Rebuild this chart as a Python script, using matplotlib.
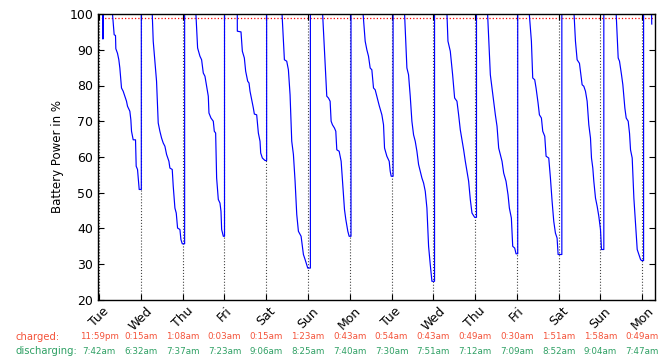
import matplotlib
matplotlib.use("Agg")
import matplotlib.pyplot as plt
import matplotlib.transforms as mtransforms

# day labels at each midnight
days = ["Tue", "Wed", "Thu", "Fri", "Sat", "Sun", "Mon",
        "Tue", "Wed", "Thu", "Fri", "Sat", "Sun", "Mon"]
charged = ["11:59pm", "0:15am", "1:08am", "0:03am", "0:15am", "1:23am", "0:43am",
           "0:54am", "0:43am", "0:49am", "0:30am", "1:51am", "1:58am", "0:49am"]
discharging = ["7:42am", "6:32am", "7:37am", "7:23am", "9:06am", "8:25am", "7:40am",
               "7:30am", "7:51am", "7:12am", "7:09am", "8:52am", "9:04am", "7:47am"]

# discharge curves, hours after that day's midnight -> battery %
c00_h = [8.65, 9.42, 9.61, 10.57, 11.33, 11.91, 12.87, 13.83, 14.79, 15.74, 16.32,
         17.66, 18.24, 18.62, 19.58, 20.92, 21.30, 22.07, 22.46, 23.03, 23.61]
c00_v = [94.2, 94.0, 90.3, 89.0, 87.2, 84.9, 79.3, 78.4, 77.0, 75.6, 74.2,
         72.8, 70.4, 67.2, 64.8, 64.8, 57.4, 56.5, 54.1, 50.9, 50.9]
c01_h = [7.09, 8.04, 9.0, 9.96, 10.92, 11.88, 12.84, 13.8, 14.76, 16.1, 16.67,
         18.01, 18.59, 19.55, 20.32, 21.08, 22.43, 23.0, 23.77]
c01_v = [92.4, 86.8, 81.2, 69.5, 67.2, 65.3, 63.9, 63.0, 60.7, 58.8, 56.9,
         56.5, 51.8, 45.7, 44.3, 40.1, 39.7, 36.9, 35.7]
c02_h = [8.59, 9.93, 10.89, 11.85, 12.81, 13.77, 14.73, 15.11, 16.26, 17.6, 18.18,
         18.95, 19.52, 20.48, 21.44, 22.02, 22.4, 23.36]
c02_v = [90.5, 88.2, 87.2, 83.5, 82.6, 79.8, 77.0, 72.3, 70.9, 70.0, 67.2,
         66.7, 54.1, 48.1, 47.1, 44.8, 39.7, 37.8]
c03_h = [7.41, 9.52, 10.29, 11.44, 12.2, 13.36, 14.12, 14.7, 15.66, 16.61, 17.19,
         18.53, 19.49, 20.45, 20.84, 21.79, 23.33]
c03_v = [95.2, 95.0, 89.6, 87.7, 84.0, 81.2, 80.7, 78.4, 76.0, 73.7, 72.0,
         71.8, 66.7, 64.4, 61.1, 59.7, 59.0]
c04_h = [10.45, 11.79, 12.75, 13.71, 14.67, 15.63, 16.59, 17.55, 18.5, 20.04,
         21.38, 22.34, 23.87]
c04_v = [87.2, 86.8, 84.4, 77.4, 64.4, 60.7, 53.2, 43.9, 39.2, 37.8, 32.7, 31.3, 28.9]
c05_h = [10.8, 11.76, 12.72, 13.3, 14.06, 15.21, 15.98, 16.56, 17.9, 19.05, 19.82,
         20.97, 21.74, 22.89, 23.65]
c05_v = [77.0, 76.5, 75.6, 70.0, 69.0, 68.1, 67.2, 62.0, 61.6, 58.8, 53.2,
         45.3, 42.5, 39.2, 37.8]
c06_h = [8.86, 9.82, 10.77, 11.73, 12.69, 13.65, 14.61, 15.57, 16.91, 18.45, 19.4,
         19.98, 21.32, 22.66, 23.24, 23.81]
c06_v = [92.4, 90.0, 88.2, 84.9, 84.4, 79.3, 78.8, 77.0, 74.4, 71.8, 69.0,
         62.5, 60.2, 58.8, 56.0, 54.6]
c07_h = [8.83, 9.78, 10.75, 11.7, 12.66, 13.62, 14.58, 15.54, 16.5, 17.46, 18.42,
         19.38, 20.33, 21.29, 22.25, 23.21]
c07_v = [84.9, 83.0, 77.0, 70.0, 66.2, 64.4, 61.6, 57.9, 56.0, 54.1, 52.7,
         50.4, 45.7, 35.0, 29.9, 25.2]
c08_h = [8.42, 9.76, 11.1, 12.25, 13.59, 14.55, 15.51, 16.47, 17.43, 18.39, 19.35,
         20.3, 21.26, 22.22, 23.76]
c08_v = [92.4, 89.6, 83.0, 76.5, 75.6, 71.8, 67.6, 64.8, 62.0, 58.8, 56.0,
         53.2, 48.1, 44.3, 43.1]
c09_h = [8.77, 9.73, 10.69, 11.65, 12.61, 13.56, 14.52, 15.48, 16.44, 17.78, 18.94,
         19.7, 20.85, 21.62, 22.77, 23.54]
c09_v = [83.0, 79.3, 75.6, 71.8, 68.6, 62.5, 60.7, 58.8, 55.5, 53.2, 49.4,
         45.7, 42.9, 35.0, 34.5, 32.9]
c10_h = [8.36, 9.12, 10.27, 11.04, 12.19, 12.96, 14.11, 14.88, 16.03, 16.8, 18.33,
         19.29, 20.25, 21.2, 22.16, 23.12, 23.7]
c10_v = [92.4, 82.1, 81.6, 79.3, 75.1, 71.8, 70.9, 67.2, 65.8, 60.2, 59.7,
         54.1, 47.6, 42.0, 38.7, 37.3, 32.7]
c11_h = [9.67, 10.63, 11.97, 12.55, 13.51, 14.46, 15.42, 16.38, 17.34, 18.3, 18.88,
         19.64, 20.22, 21.18, 22.14, 23.09, 24.05, 24.63]
c11_v = [92.4, 87.2, 86.2, 84.0, 80.2, 79.8, 78.4, 75.6, 69.0, 65.3, 59.7,
         56.9, 53.2, 48.5, 46.2, 43.4, 39.7, 34.1]
c12_h = [10.22, 10.98, 12.13, 12.9, 14.05, 14.82, 15.97, 16.74, 17.31, 18.27, 19.23,
         20.19, 21.15, 22.1, 23.07, 23.64]
c12_v = [87.7, 86.8, 83.0, 80.2, 73.7, 70.9, 70.0, 66.6, 62.0, 59.7, 48.5,
         41.1, 34.1, 32.7, 31.3, 31.0]

# small glitches: early dip on the first night, last reading at the end
dip_h = [2.0, 2.2, 2.4]
dip_v = [100, 93, 100]
end_h = [5.4, 5.5]
end_v = [100, 97.2]

curves = [(c00_h, c00_v), (c01_h, c01_v), (c02_h, c02_v), (c03_h, c03_v),
          (c04_h, c04_v), (c05_h, c05_v), (c06_h, c06_v), (c07_h, c07_v),
          (c08_h, c08_v), (c09_h, c09_v), (c10_h, c10_v), (c11_h, c11_v),
          (c12_h, c12_v)]


def to_hours(s):
    hm, ampm = s[:-2], s[-2:]
    h, m = hm.split(":")
    h = int(h) % 12 + (12 if ampm == "pm" else 0)
    return h + int(m) / 60.0


# build the time series (x in days from first Tuesday midnight)
t, v = [], []
for d in range(len(days)):
    ch = to_hours(charged[d])
    if ch > 12:
        ch -= 24
    ch = d + ch / 24.0
    if d > 0:
        t.append(ch)
        v.append(v[-1])
    t.append(ch)
    v.append(100)
    if d == 0:
        t += [d + h / 24.0 for h in dip_h]
        v += dip_v
    if d < len(curves):
        hs, vs = curves[d]
        t.append(d + to_hours(discharging[d]) / 24.0)
        v.append(100)
        t += [d + h / 24.0 for h in hs]
        v += vs
    else:
        t += [d + h / 24.0 for h in end_h]
        v += end_v

fig = plt.figure(figsize=(6.64, 3.6), dpi=100)
ax = fig.add_axes([0.148, 0.167, 0.838, 0.794])

for d in range(len(days)):
    ax.axvline(d, color="#444444", ls=":", lw=0.8, zorder=1)
ax.axhline(99, color="red", ls=":", lw=0.9, zorder=1)
ax.plot(t, v, color="blue", lw=0.85, zorder=2)

ax.set_xlim(-0.02, 13.30)
ax.set_ylim(20, 100)
ax.set_yticks(range(20, 101, 10))
ax.set_xticks(range(len(days)))
ax.set_xticklabels(days, rotation=45, ha="center", fontsize=9)
ax.tick_params(axis="y", labelsize=9)
ax.tick_params(direction="in", top=True, right=True, length=4)
ax.set_ylabel("Battery Power in %", fontsize=8.5)
for s in ax.spines.values():
    s.set_linewidth(1.0)

red = "#f4533a"
green = "#2fa064"
tr = mtransforms.blended_transform_factory(ax.transData, fig.transFigure)
fig.text(0.0226, 0.064, "charged:", color=red, fontsize=7.2, va="center")
fig.text(0.0226, 0.025, "discharging:", color=green, fontsize=7.2, va="center")
for d in range(len(days)):
    ax.text(d, 0.064, charged[d], color=red, fontsize=6.3, ha="center",
            va="center", transform=tr, clip_on=False)
    ax.text(d, 0.025, discharging[d], color=green, fontsize=6.3, ha="center",
            va="center", transform=tr, clip_on=False)

fig.savefig("out.png", dpi=100)
